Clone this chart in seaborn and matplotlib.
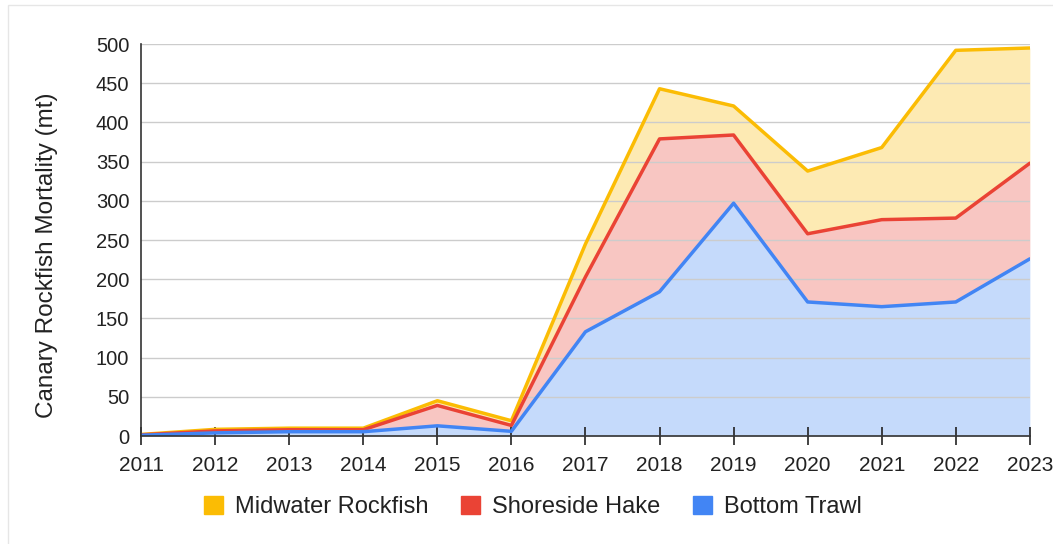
import numpy as np
import pandas as pd
import seaborn as sns
import matplotlib.pyplot as plt
from matplotlib.patches import Patch, Rectangle

years = [2011, 2012, 2013, 2014, 2015, 2016, 2017, 2018, 2019, 2020, 2021, 2022, 2023]
bottom_trawl = [1, 4, 5.5, 5.5, 13, 6, 133, 184, 297, 171, 165, 171, 226]
shoreside_hake = [0.5, 2.5, 2.5, 2.5, 26, 7.5, 70, 195, 87, 87, 111, 107, 122]
midwater_rockfish = [0.5, 2, 2, 2, 6, 6, 42, 64, 37, 80, 92, 214, 147]

series_names = ["Bottom Trawl", "Shoreside Hake", "Midwater Rockfish"]
colors = {"Bottom Trawl": "#4285F4", "Shoreside Hake": "#EA4335", "Midwater Rockfish": "#FBBC04"}

sns.set_theme(style="ticks")
plt.rcParams["font.family"] = ["Liberation Sans", "DejaVu Sans"]

# stacked totals
stack = np.cumsum([bottom_trawl, shoreside_hake, midwater_rockfish], axis=0)
df = pd.DataFrame({"year": years * 3,
                   "total": np.concatenate(stack),
                   "series": np.repeat(series_names, len(years))})

fig = plt.figure(figsize=(10.53, 5.44), dpi=100)
ax = fig.add_axes([0.134, 0.1985, 0.844, 0.7205])

lower = np.zeros(len(years))
for name, top in zip(series_names, stack):
    ax.fill_between(years, lower, top, color=colors[name], alpha=0.3, linewidth=0)
    lower = top

sns.lineplot(data=df, x="year", y="total", hue="series", palette=colors,
             hue_order=series_names[::-1], linewidth=2.5, ax=ax, legend=False)
for line in ax.get_lines():
    line.set_zorder(3)

ax.set_axisbelow(False)
ax.set_xlim(2011, 2023)
ax.set_ylim(0, 500)
ax.set_yticks(range(0, 501, 50))
ax.set_xticks(years)
ax.set_xticklabels([str(y) for y in years])
ax.yaxis.grid(True, color="#cccccc", linewidth=1)
for line in ax.get_ygridlines():
    line.set_zorder(1.5)
ax.set_xlabel("")
ax.set_ylabel("Canary Rockfish Mortality (mt)", fontsize=17.5, color="#222222")
ax.yaxis.set_label_coords(-0.093, 0.462)
ax.tick_params(axis="y", labelsize=14.5, colors="#222222", left=False, length=0, pad=8.5)
ax.tick_params(axis="x", labelsize=15, labelcolor="#222222", color="#222222",
               direction="inout", length=13, width=1.2, bottom=True, pad=8)
for side in ["top", "right"]:
    ax.spines[side].set_visible(False)
for side in ["left", "bottom"]:
    ax.spines[side].set_color("#333333")
    ax.spines[side].set_linewidth(1.2)
    ax.spines[side].set_zorder(4)

handles = [Patch(facecolor=colors[n], edgecolor=colors[n], label=n) for n in series_names[::-1]]
fig.legend(handles=handles, loc="center", bbox_to_anchor=(0.506, 0.068), ncol=3,
           frameon=False, fontsize=17, handlelength=0.8, handleheight=0.8,
           handletextpad=0.5, columnspacing=1.4, labelcolor="#222222")

fig.patches.append(Rectangle((0.008, -0.01), 0.995, 1.0, transform=fig.transFigure,
                             fill=False, edgecolor="#e6e6e6", linewidth=1))

fig.savefig("out.png", dpi=100)
